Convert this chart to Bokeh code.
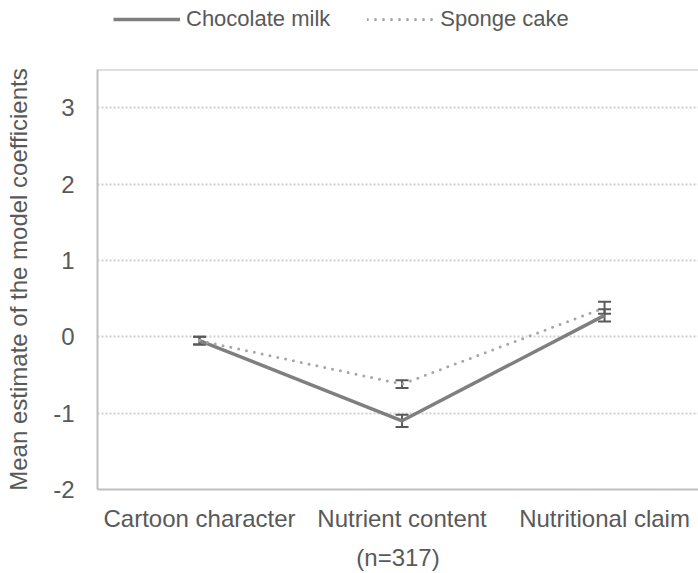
from bokeh.plotting import figure
from bokeh.layouts import column
from bokeh.models import (Range1d, FixedTicker, Legend, LegendItem, Span,
                          ColumnDataSource, Whisker, TeeHead)
from bokeh.embed import file_html
from bokeh.resources import INLINE

categories = ["Cartoon character", "Nutrient content", "Nutritional claim"]
cat_idx = [0, 1, 2]
choc = [-0.05, -1.10, 0.28]
choc_err = [0.05, 0.08, 0.08]
sponge = [-0.05, -0.62, 0.38]
sponge_err = [0.05, 0.05, 0.08]
y_ticks = [-2, -1, 0, 1, 2, 3]
y_tick_labels = ["-2", "-1", "0", "1", "2", "3"]
series_names = ["Chocolate milk", "Sponge cake"]

FONT = "Liberation Sans"
TXT = "#595959"
FS = "24px"
LFS = "22px"
CHOC_STYLE = dict(line_color="#7F7F7F", line_width=3.5)
SP_STYLE = dict(line_color="#A6A6A6", line_width=3, line_dash="0 8",
                line_cap="round")

# ---------- legend strip (separate figure so it is not clipped) ----------
lg = figure(width=698, height=40, output_backend="svg", toolbar_location=None,
            x_axis_type=None, y_axis_type=None,
            x_range=Range1d(0, 1), y_range=Range1d(0, 1),
            min_border=0)
lg.outline_line_color = None
lg.grid.visible = False
nan = float("nan")
placeholder = ColumnDataSource(dict(x=[nan], y=[nan]))
lr1 = lg.line("x", "y", source=placeholder, **CHOC_STYLE)
lr2 = lg.line("x", "y", source=placeholder, **SP_STYLE)
legend = Legend(items=[LegendItem(label=series_names[0], renderers=[lr1]),
                       LegendItem(label=series_names[1], renderers=[lr2])],
                orientation="horizontal", location=(16, 8),
                glyph_width=67, glyph_height=22, label_standoff=6, spacing=37,
                padding=0, margin=0, border_line_color=None,
                background_fill_alpha=0,
                label_text_font=FONT, label_text_font_size=LFS,
                label_text_color=TXT)
lg.add_layout(legend)

# ---------- main chart ----------
p = figure(width=698, height=533, output_backend="svg", toolbar_location=None,
           x_range=Range1d(-0.504, 2.464), y_range=Range1d(-2, 3.5),
           min_border_left=97, min_border_right=0, min_border_top=29,
           min_border_bottom=83)
p.outline_line_color = None
p.background_fill_color = "white"
p.border_fill_color = "white"

p.xaxis.ticker = FixedTicker(ticks=cat_idx)
p.xaxis.major_label_overrides = {i: c for i, c in zip(cat_idx, categories)}
p.xaxis.axis_label = "(n=317)"
p.yaxis.ticker = FixedTicker(ticks=y_ticks)
p.yaxis.major_label_overrides = {t: s for t, s in zip(y_ticks, y_tick_labels)}
p.yaxis.axis_label = "Mean estimate of the model coefficients"
for ax in (p.xaxis[0], p.yaxis[0]):
    ax.axis_line_color = "#BFBFBF"
    ax.axis_line_width = 2
    ax.major_tick_line_color = None
    ax.minor_tick_line_color = None
    ax.major_label_text_font = FONT
    ax.major_label_text_font_size = FS
    ax.major_label_text_color = TXT
    ax.axis_label_text_font = FONT
    ax.axis_label_text_font_size = FS
    ax.axis_label_text_color = TXT
    ax.axis_label_text_font_style = "normal"
p.xaxis.major_label_standoff = 9
p.xaxis.axis_label_standoff = 9
p.yaxis.major_label_standoff = 17
p.yaxis.axis_label_standoff = 18

# top border of the plot area
p.add_layout(Span(location=3.5, dimension="width", line_color="#BFBFBF",
                  line_width=2))

p.xgrid.grid_line_color = None
p.ygrid.grid_line_color = "#D0D0D0"
p.ygrid.grid_line_width = 2
p.ygrid.grid_line_dash = "2 2"

src = ColumnDataSource(dict(
    x=cat_idx, choc=choc, sponge=sponge,
    choc_lo=[v - e for v, e in zip(choc, choc_err)],
    choc_hi=[v + e for v, e in zip(choc, choc_err)],
    sp_lo=[v - e for v, e in zip(sponge, sponge_err)],
    sp_hi=[v + e for v, e in zip(sponge, sponge_err)],
))

p.line("x", "choc", source=src, **CHOC_STYLE)
for lo, hi in (("choc_lo", "choc_hi"), ("sp_lo", "sp_hi")):
    w = Whisker(base="x", lower=lo, upper=hi, source=src, dimension="height",
                line_color="#595959", line_width=2,
                upper_head=TeeHead(size=13, line_color="#595959", line_width=2),
                lower_head=TeeHead(size=13, line_color="#595959", line_width=2))
    p.add_layout(w)
p.line("x", "sponge", source=src, **SP_STYLE)

layout = column(lg, p, spacing=0)
open("out.html", "w").write(file_html(layout, INLINE))
